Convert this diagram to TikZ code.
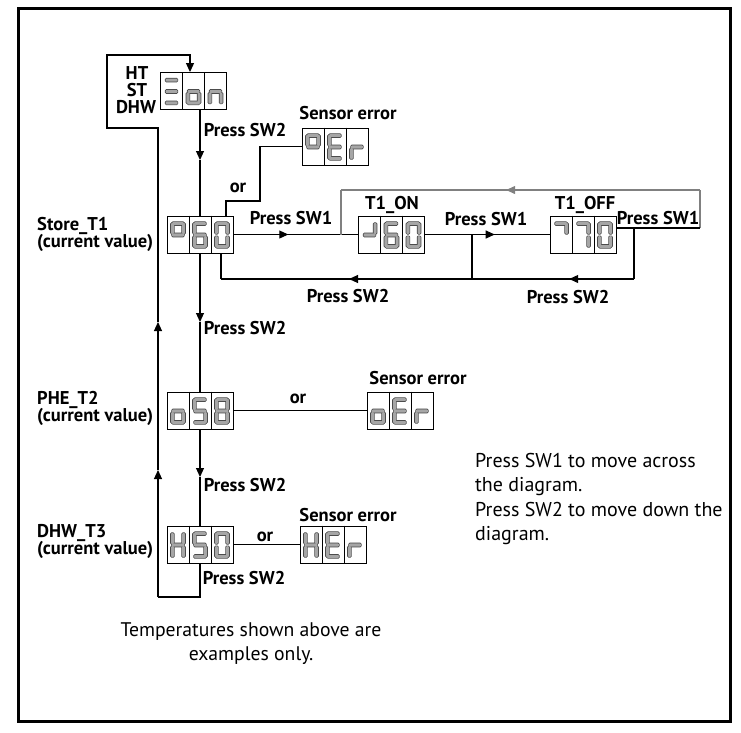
\documentclass[tikz,border=0pt]{standalone}
\usepackage{fontspec}
\setmainfont{PT Sans}
\usetikzlibrary{arrows.meta,decorations.markings}

\newcommand\tightlines{\setlength{\lineskiplimit}{-50pt}}
\tikzset{
  lbl/.style={font=\bfseries\fontsize{18.5}{17}\selectfont\tightlines, inner sep=0pt},
  body/.style={font=\fontsize{20}{24.5}\selectfont, inner sep=0pt, align=left},
  foot/.style={font=\fontsize{19.7}{24}\selectfont, inner sep=0pt, align=center},
  disp/.style={draw, line width=0.9pt, minimum width=66pt, minimum height=37pt, inner sep=0pt},
  wire/.style={line width=1.1pt},
  graywire/.style={line width=1.1pt, draw=black!50},
  arr/.style={-{Triangle[width=8pt,length=9pt]}},
  midarr/.style={postaction={decorate}, decoration={markings, mark=at position #1 with {\arrow{Triangle[width=8pt,length=9pt]}}}},
  segout/.style={draw=black!75, line width=1.4pt, rounded corners=1pt},
  segfill/.style={fill=gray!70, rounded corners=1pt},
}

\newcommand\sgpatha[1]{\path[#1] (-6,-13) rectangle (6,-9.8);}
\newcommand\sgpathg[1]{\path[#1] (-6,-1.6) rectangle (6,1.6);}
\newcommand\sgpathd[1]{\path[#1] (-6,9.8) rectangle (6,13);}
\newcommand\sgpathf[1]{\path[#1] (-7.2,-12) rectangle (-4,-1.2);}
\newcommand\sgpathb[1]{\path[#1] (4,-12) rectangle (7.2,-1.2);}
\newcommand\sgpathe[1]{\path[#1] (-7.2,1.2) rectangle (-4,12);}
\newcommand\sgpathc[1]{\path[#1] (4,1.2) rectangle (7.2,12);}

\newcommand\segdigit[3]{%
  \begin{scope}[shift={(#1,#2)}]
    \foreach \s in {#3}{\csname sgpath\s\endcsname{segout}}
    \foreach \s in {#3}{\csname sgpath\s\endcsname{segfill}}
  \end{scope}}

\newcommand\display[6]{%
  \node[disp] (#1) at (#2,#3) {};
  \draw[line width=0.9pt] ([xshift=-11pt]#1.north) -- ([xshift=-11pt]#1.south);
  \draw[line width=0.9pt] ([xshift=11pt]#1.north) -- ([xshift=11pt]#1.south);
  \segdigit{#2-22}{#3+0.5}{#4}
  \segdigit{#2}{#3+0.5}{#5}
  \segdigit{#2+22}{#3+0.5}{#6}}

\begin{document}
\begin{tikzpicture}[x=1pt,y=-1pt]
\useasboundingbox (0,0) rectangle (741,732);
\draw[line width=3pt] (18,8.5) rectangle (730,721);

% displays
\display{eon}{193.5}{91}{a,g,d}{g,c,d,e}{g,c,e}
\display{store}{200}{234.5}{a,b,f,g}{a,f,g,e,d,c}{a,b,c,d,e,f}
\display{errA}{335}{146.5}{a,b,f,g}{a,f,g,e,d}{g,e}
\display{t1on}{391.5}{234.5}{b,g}{a,f,g,e,d,c}{a,b,c,d,e,f}
\display{t1off}{583}{234.5}{a,b}{a,b,c}{a,b,c,d,e,f}
\display{phe}{200}{410.5}{g,c,d,e}{a,f,g,c,d}{a,b,c,d,e,f,g}
\display{errB}{400}{410.5}{g,c,d,e}{a,f,g,e,d}{g,e}
\display{dhw}{200}{544.5}{b,c,e,f,g}{a,f,g,c,d}{a,b,c,d,e,f}
\display{errC}{333}{544.5}{b,c,e,f,g}{a,f,g,e,d}{g,e}

% left labels
\node[lbl] (lht) at (137,73) {HT};
\node[lbl] (lst) at (137,90) {ST};
\node[lbl] (ldhw) at (136,107) {DHW};
\node[lbl, anchor=west, align=left] (ls) at (37,234) {Store\_T1\\(current value)};
\node[lbl, anchor=west, align=left] (lp) at (37,408.5) {PHE\_T2\\(current value)};
\node[lbl, anchor=west, align=left] (ld) at (37,541.5) {DHW\_T3\\(current value)};

% other labels
\node[lbl] (sw2a) at (245,130) {Press SW2};
\node[lbl] (serA) at (348,113) {Sensor error};
\node[lbl] (orA) at (238,188) {or};
\node[lbl] (sw1a) at (291,218) {Press SW1};
\node[lbl] (lon) at (392,205) {T1\_ON};
\node[lbl] (sw1b) at (486,219) {Press SW1};
\node[lbl] (loff) at (585,205) {T1\_OFF};
\node[lbl] (sw1c) at (658,218) {Press SW1};
\node[lbl] (sw2b) at (348,296) {Press SW2};
\node[lbl] (sw2c) at (568,297) {Press SW2};
\node[lbl] (sw2d) at (245,328) {Press SW2};
\node[lbl] (orB) at (298,399) {or};
\node[lbl] (serB) at (418,378) {Sensor error};
\node[lbl] (sw2e) at (245,485) {Press SW2};
\node[lbl] (orC) at (265,537) {or};
\node[lbl] (serC) at (348,515) {Sensor error};
\node[lbl] (sw2f) at (244,578) {Press SW2};

\node[body, anchor=north west] (note) at (475,453) {Press SW1 to move across\\the diagram.\\Press SW2 to move down the\\diagram.};
\node[foot, anchor=north] (footnote) at (251,622) {Temperatures shown above are\\examples only.};

% coordinates
\coordinate (b1) at (200,597);
\coordinate (b2) at (158,597);
\coordinate (upA) at (158,470);
\coordinate (upB) at (158,322);
\coordinate (b3) at (158,128);
\coordinate (b4) at (107,128);
\coordinate (b5) at (107,55);
\coordinate (b6) at (190,55);
\coordinate (dnA) at (200,160);
\coordinate (dnB) at (200,322);
\coordinate (dnC) at (200,477);
\coordinate (o1) at (226,201);
\coordinate (o2) at (260,201);
\coordinate (g1) at (341,234.5);
\coordinate (g2) at (341,190);
\coordinate (g3) at (700,190);
\coordinate (g4) at (700,228);
\coordinate (r1) at (634,228);
\coordinate (r2) at (634,279);
\coordinate (r3) at (221,279);
\coordinate (j1) at (472,234.5);
\coordinate (j2) at (472,279);

% return loop on the left
\draw[wire] (dhw.south) -- (b1) -- (b2);
\draw[wire,arr] (b2) -- (upA);
\draw[wire,arr] (upA) -- (upB);
\draw[wire,arr] (upB) -- (b3) -- (b4) -- (b5) -- (b6) -- (b6 |- eon.north);

% main down line
\draw[wire,arr] (eon.south -| store.north) -- (dnA);
\draw[wire] (dnA) -- (store.north);
\draw[wire,arr] (store.south) -- (dnB);
\draw[wire] (dnB) -- (phe.north);
\draw[wire,arr] (phe.south) -- (dnC);
\draw[wire] (dnC) -- (dhw.north);

% sensor error branches
\draw[wire] (store.north -| o1) -- (o1) -- (o2) -- (o2 |- errA.west) -- (errA.west);
\draw[wire] (phe.east) -- (errB.west);
\draw[wire] (dhw.east) -- (errC.west);

% SW1 chain
\draw[wire, midarr=0.44] (store.east) -- (t1on.west);
\draw[wire, midarr=0.56] (t1on.east) -- (t1off.west);
\draw[graywire] (g1) -- (g2);
\draw[graywire, midarr=0.54] (g3) -- (g2);
\draw[graywire] (g4) -- (g3);
\draw[wire] (g4 -| t1off.east) -- (g4);

% SW2 return
\draw[wire] (r1) -- (r2);
\draw[wire] (j1) -- (j2);
\draw[wire, midarr=0.4] (r2) -- (j2);
\draw[wire, midarr=0.49] (j2) -- (r3);
\draw[wire] (r3) -- (store.south -| r3);
\end{tikzpicture}
\end{document}
